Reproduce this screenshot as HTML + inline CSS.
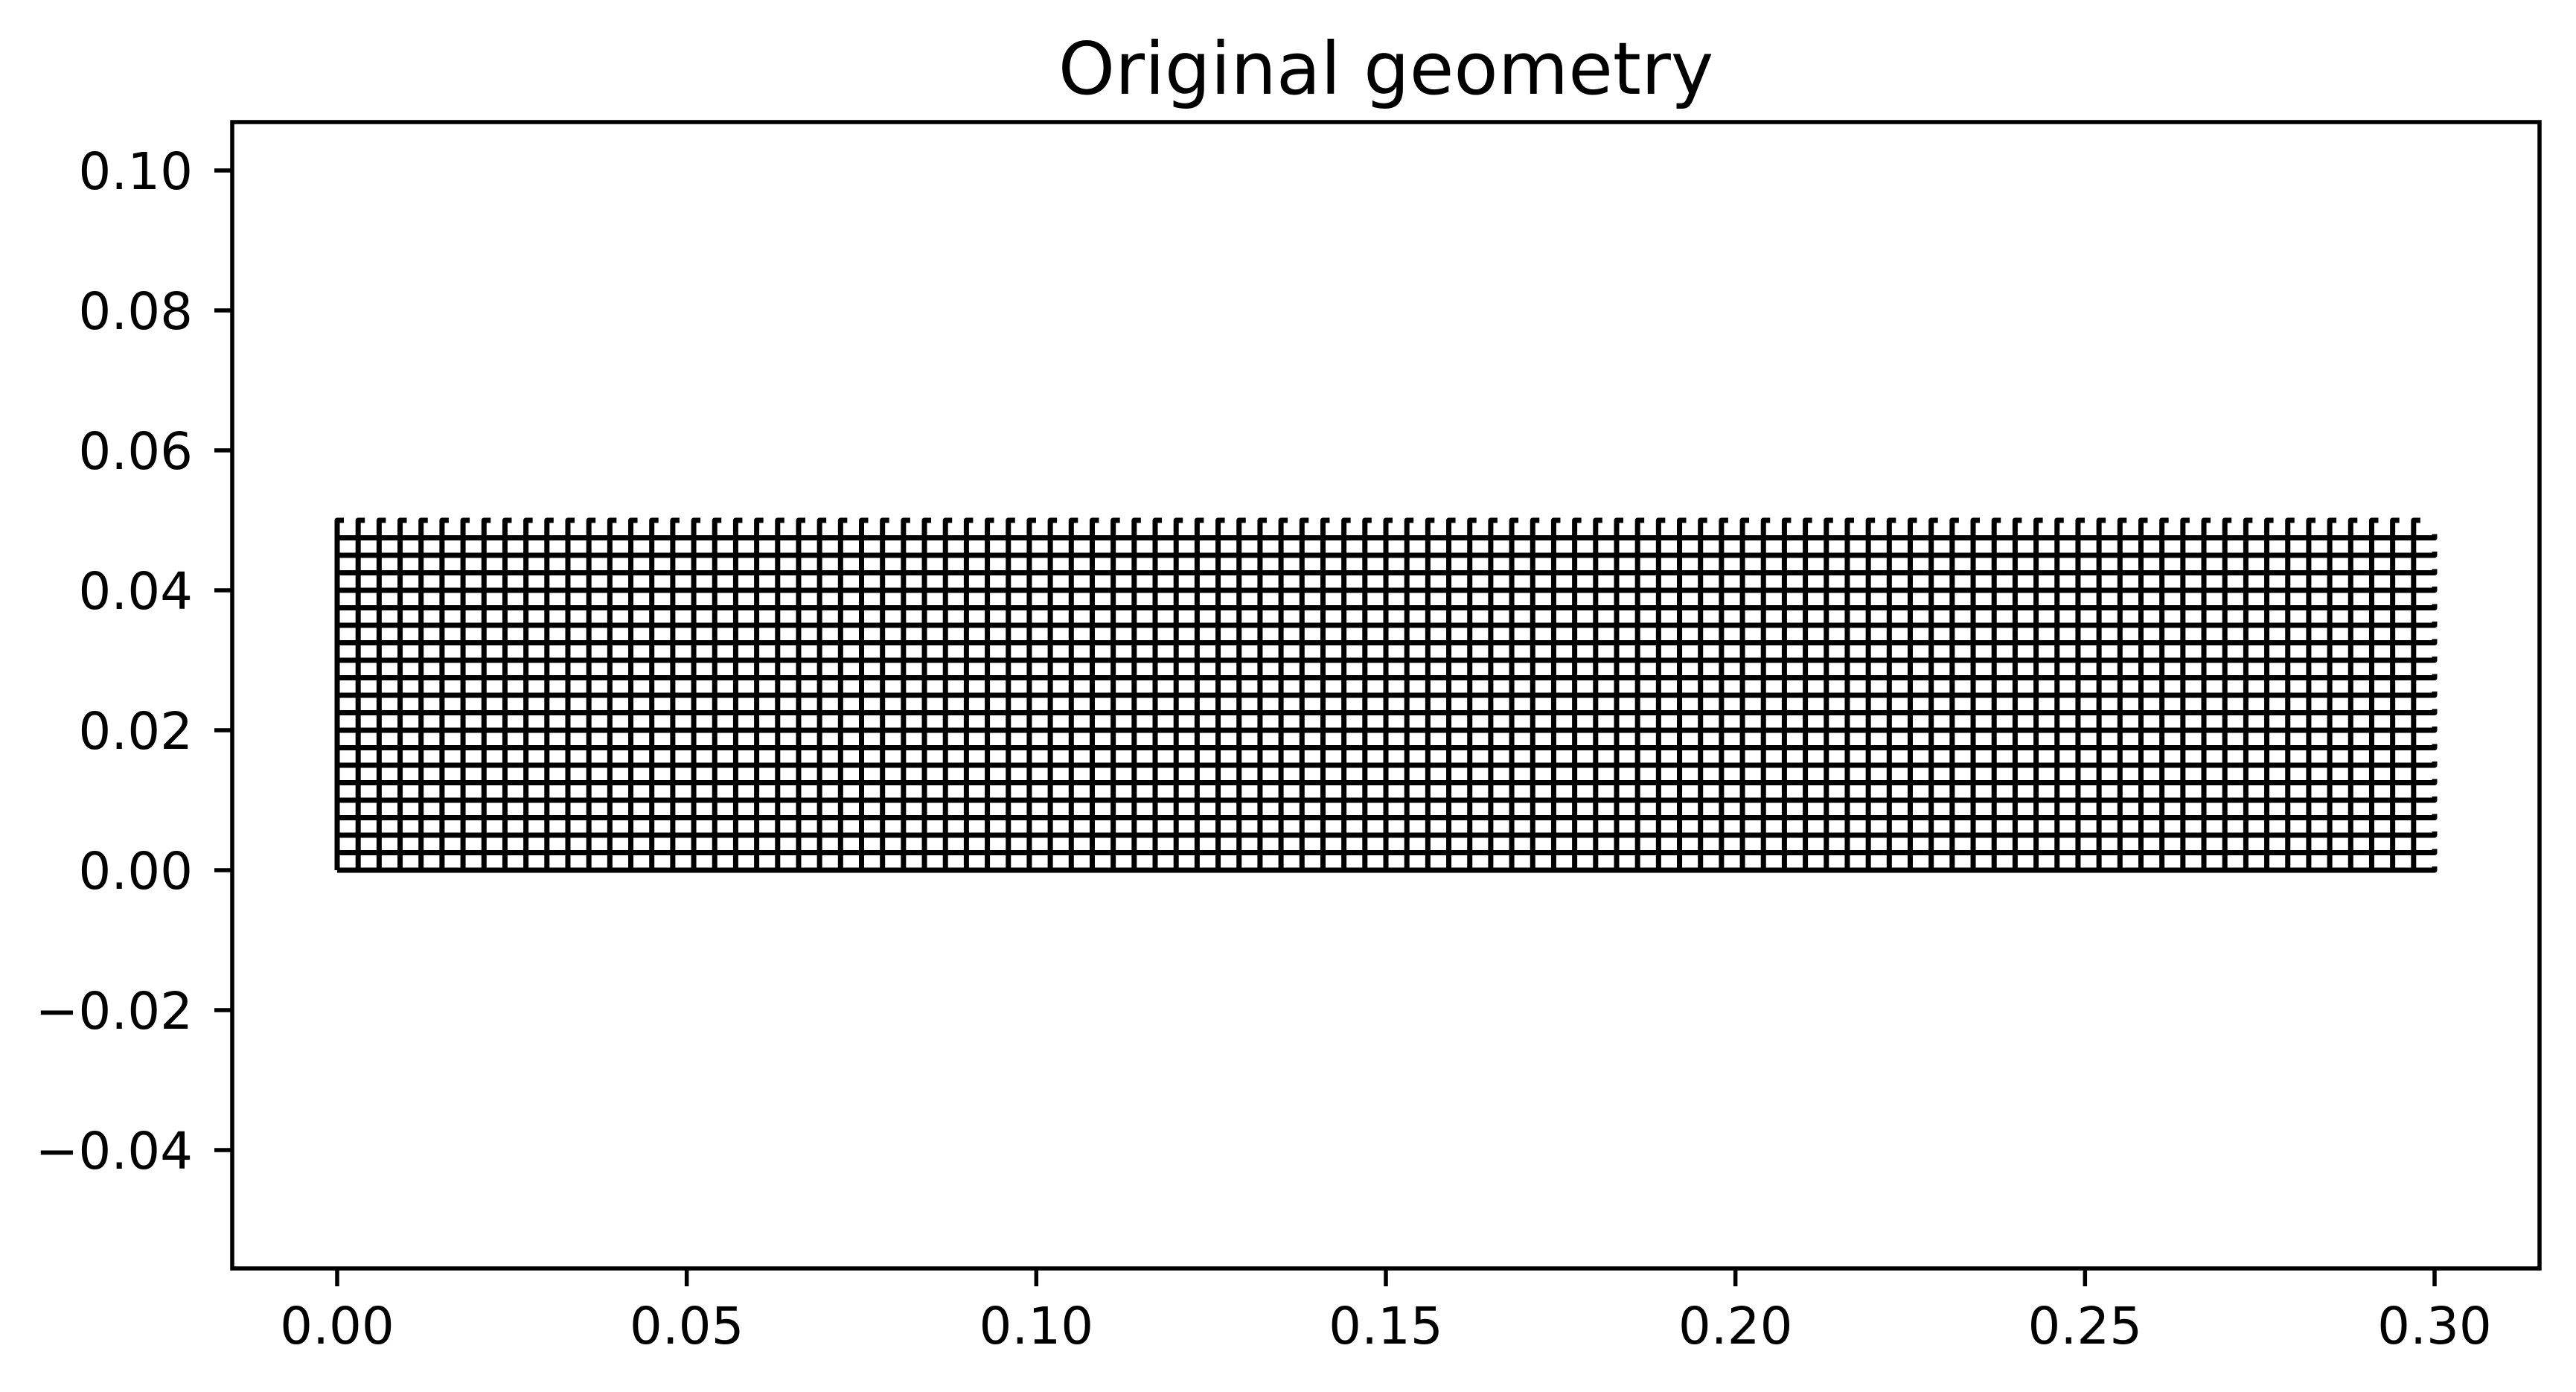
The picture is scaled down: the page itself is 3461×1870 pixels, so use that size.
<!DOCTYPE html>
<html><head><meta charset="utf-8"><style>
html,body{margin:0;padding:0;background:#fff;}
svg{display:block;font-family:"DejaVu Sans","Liberation Sans",sans-serif;}
</style></head><body>
<svg id="chart" width="3461" height="1870" viewBox="0 0 3461 1870" xmlns="http://www.w3.org/2000/svg">
<rect width="3461" height="1870" fill="#fff"/>
<text x="1862" y="126" font-size="97" text-anchor="middle">Original geometry</text>
<g id="mesh"></g>
<g id="axes"></g>
</svg>
<script>
const xTicks = [0.00, 0.05, 0.10, 0.15, 0.20, 0.25, 0.30];
const xTickLabels = ["0.00","0.05","0.10","0.15","0.20","0.25","0.30"];
const yTicks = [0.10, 0.08, 0.06, 0.04, 0.02, 0.00, -0.02, -0.04];
const yTickLabels = ["0.10","0.08","0.06","0.04","0.02","0.00","\u22120.02","\u22120.04"];
const meshLength = [0.3];
const meshHeight = [0.05];
const meshCellsX = [100];
const meshCellsY = [20];

const L=312,R=3412,T=164,B=1704;
function sx(v){return 453 + v*(3271-453)/0.3;}
function sy(v){return 1169 - v*(1169-229)/0.10;}
const NS="http://www.w3.org/2000/svg";
const mesh=document.getElementById('mesh');
const axes=document.getElementById('axes');
function mk(tag,attrs,parent){const e=document.createElementNS(NS,tag);for(const k in attrs)e.setAttribute(k,attrs[k]);parent.appendChild(e);return e;}

const W=meshLength[0],H=meshHeight[0],nx=meshCellsX[0],ny=meshCellsY[0];
const dx=W/nx, dy=H/ny;
let dv="";
for(let i=0;i<nx;i++){
  const x=sx(i*dx);
  dv+=`M${x},${sy(0)}L${x},${sy(H)}l9,0`;
}
const pv=mk('path',{d:dv,stroke:'#000','stroke-width':7,fill:'none','stroke-linejoin':'round'},mesh);


let dh="";
for(let j=0;j<ny;j++){
  const y=sy(j*dy);
  dh+=`M${sx(0)},${y}L${sx(W)},${y}l0,-5`;
}
const ph=mk('path',{d:dh,stroke:'#000','stroke-width':7,fill:'none','stroke-linejoin':'round'},mesh);



const frame=mk('rect',{x:L,y:T,width:R-L,height:B-T,fill:'none',stroke:'#000','stroke-width':5.5},axes);



xTicks.forEach((v,i)=>{
  const x=sx(v);
  const t=mk('line',{x1:x,y1:B,x2:x,y2:B+24,stroke:'#000','stroke-width':5.5},axes);
  
  
  const l=mk('text',{x:x,y:1805,'font-size':69,'text-anchor':'middle'},axes);
  l.textContent=xTickLabels[i];
  
  
});
yTicks.forEach((v,i)=>{
  const y=sy(v);
  const t=mk('line',{x1:L-24,y1:y,x2:L,y2:y,stroke:'#000','stroke-width':5.5},axes);
  
  
  const l=mk('text',{x:259,y:y+25,'font-size':69,'text-anchor':'end'},axes);
  l.textContent=yTickLabels[i];
  
  
});
</script>
</body></html>
